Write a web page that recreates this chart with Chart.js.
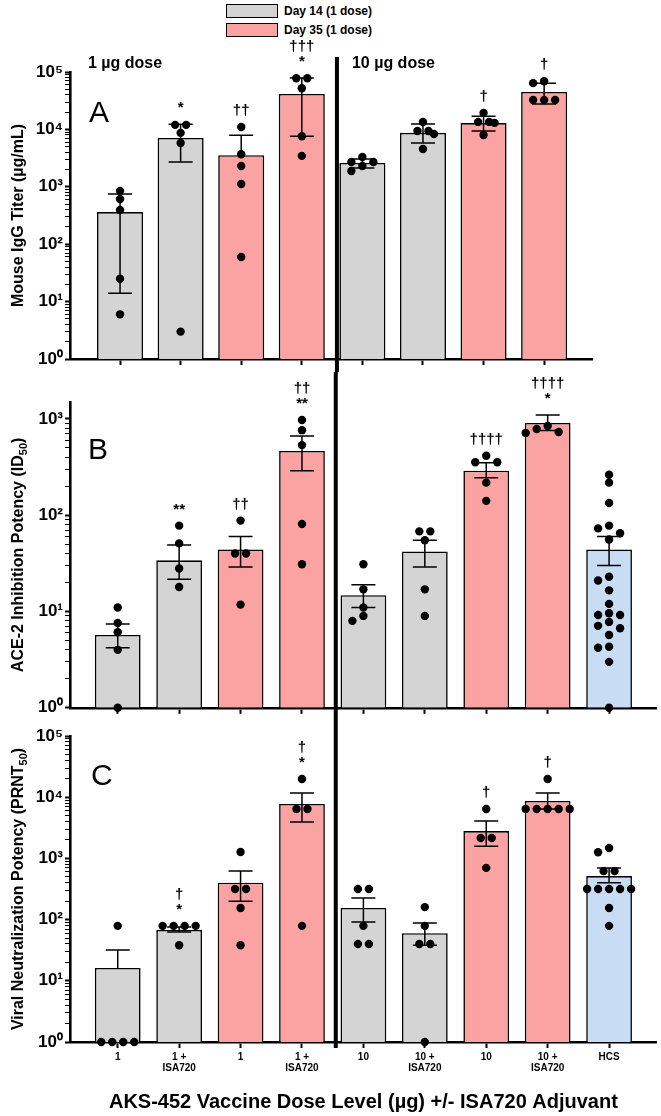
<!DOCTYPE html>
<html>
<head>
<meta charset="utf-8">
<script src="https://cdn.jsdelivr.net/npm/chart.js@4.4.0/dist/chart.umd.min.js"></script>
<style>
  body { margin: 0; background: #fff; width: 661px; height: 1116px; position: relative; overflow: hidden;
         font-family: "Liberation Sans", Arial, sans-serif; }
  canvas { position: absolute; left: 0; }
  #legend { position: absolute; left: 226px; top: 1px; font-weight: bold; font-size: 12px; }
  #legend .item { display: flex; align-items: center; height: 19px; }
  #legend .box { width: 50px; height: 12px; border: 1.5px solid #000; margin-right: 6px; }
</style>
</head>
<body>
<div id="legend">
  <div class="item"><span class="box" style="background:#d4d4d4"></span>Day 14 (1 dose)</div>
  <div class="item"><span class="box" style="background:#fba2a2"></span>Day 35 (1 dose)</div>
</div>
<canvas id="chartA" width="661" height="372" style="top:0"></canvas>
<canvas id="chartB" width="661" height="348" style="top:372px"></canvas>
<canvas id="chartC" width="661" height="396" style="top:720px"></canvas>
<script>
Chart.defaults.font.family = "'Liberation Sans', Arial, sans-serif";
Chart.defaults.color = "#000";

// categories along the x axis (multi-line labels)
const categories = [["1"], ["1 +", "ISA720"], ["1"], ["1 +", "ISA720"], ["10"], ["10 +", "ISA720"], ["10"], ["10 +", "ISA720"], ["HCS"]];
const groupOf = ["d14", "d14", "d35", "d35", "d14", "d14", "d35", "d35", "hcs"];
const groupNames = { d14: "Day 14 (1 dose)", d35: "Day 35 (1 dose)", hcs: "HCS" };
const groupColors = { d14: "#d4d4d4", d35: "#fba2a2", hcs: "#c8dcf4" };

// Panel A - Mouse IgG titer
const meanA = [363, 7100, 3560, 41500, 2600, 8700, 12900, 45000];
const errHiA = [750, 12300, 7900, 79000, 3040, 12400, 17000, 64000];
const errLoA = [14, 2700, null, 7600, 2130, 5800, 9400, 27800];
const dotsA = [
  [850, 615, 395, 25, 6],
  [12000, 12000, 8700, 5800, 3],
  [11000, 3700, 2300, 1120, 60],
  [78000, 78000, 52000, 7600, 3460],
  [3300, 2700, 2700, 2300, 1880],
  [13500, 9400, 9400, 8300, 4560],
  [19400, 13500, 13500, 13000, 8000],
  [69000, 64000, 32500, 32500, 32500]
];
const marksA = [[], ["*"], ["††"], ["*", "†††"], [], [], ["†"], ["†"]];

// Panel B - ACE-2 inhibition
const meanB = [5.7, 34, 44, 466, 14.8, 42, 290, 910, 44];
const errHiB = [7.4, 49, 60, 665, 19, 55, 350, 1100, 60];
const errLoB = [4.2, 21.6, 29, 290, 11, 29, 245, 760, 30];
const dotsB = [
  [11, 7.6, 6.1, 4, 1],
  [78, 51, 28, 18],
  [88, 40, 40, 11.8],
  [975, 765, 535, 81, 31],
  [31, 17, 11, 9, 8],
  [68, 68, 55, 17, 9],
  [415, 355, 355, 218, 141],
  [845, 787, 732, 715],
  [263, 218, 134, 78, 73, 65, 56, 23, 21, 16.6, 12, 9.6, 9.2, 9.2, 7.8, 7.1, 6.7, 5.7, 4.3, 4.2, 3, 1]
];
const marksB = [[], ["**"], ["††"], ["**", "††"], [], [], ["††††"], ["*", "††††"], []];

// Panel C - viral neutralization
const meanC = [16.2, 68, 400, 7760, 155, 60, 2800, 8700, 515];
const errHiC = [32, 76, 620, 11700, 225, 88, 4100, 11700, 700];
const errLoC = [null, 63, 200, 3950, 91, 38, 1580, 6400, 400];
const dotsC = [
  [79, 1, 1, 1, 1],
  [79, 79, 79, 79, 38],
  [1270, 316, 316, 155, 38],
  [19800, 6400, 6400, 79],
  [316, 316, 79, 40, 40],
  [160, 79, 40, 40, 1],
  [6400, 2150, 2150, 700],
  [19800, 6400, 6400, 6400, 6400, 6400],
  [1480, 1260, 620, 620, 316, 316, 316, 316, 316, 155, 79]
];
const marksC = [[], ["*", "†"], [], ["*", "†"], [], [], ["†"], ["†"], []];

const supDigits = ["⁰", "¹", "²", "³", "⁴", "⁵", "⁶"];

function logTicks(max) {
  const ticks = [];
  for (let e = 0; Math.pow(10, e) <= max; e++) {
    for (let d = 1; d <= 9; d++) {
      const v = d * Math.pow(10, e);
      if (v <= max) ticks.push({ value: v, major: d === 1 });
    }
  }
  return ticks;
}

// spread the dots of one bar sideways so they do not overlap
function swarm(items, step, dia) {
  const placed = [];
  items.sort((a, b) => a.y - b.y);
  items.forEach(it => {
    for (let k = 0; k < 30; k++) {
      const off = k === 0 ? 0 : (k % 2 ? -1 : 1) * Math.ceil(k / 2) * step;
      if (placed.every(p => Math.hypot(p.off - off, p.y - it.y) >= dia)) {
        placed.push({ el: it.el, y: it.y, off });
        break;
      }
    }
  });
  const rows = {};
  placed.forEach(p => {
    const key = Math.round(p.y);
    (rows[key] = rows[key] || []).push(p);
  });
  Object.values(rows).forEach(r => {
    if (r.length < 2) return;
    const m = r.reduce((s, p) => s + p.off, 0) / r.length;
    r.forEach(p => { p.off -= m; });
  });
  placed.forEach(p => { p.el.x += p.off; });
}

// rotated axis title, odd parts are drawn as subscripts
function drawYTitle(ctx, parts, cx, cy) {
  const big = "bold 16px 'Liberation Sans', Arial";
  const small = "bold 11px 'Liberation Sans', Arial";
  let w = 0;
  parts.forEach((t, i) => { ctx.font = i % 2 ? small : big; w += ctx.measureText(t).width; });
  ctx.save();
  ctx.translate(cx, cy);
  ctx.rotate(-Math.PI / 2);
  ctx.textAlign = "left";
  ctx.textBaseline = "middle";
  let pos = -w / 2;
  parts.forEach((t, i) => {
    ctx.font = i % 2 ? small : big;
    ctx.fillText(t, pos, i % 2 ? 5 : 0);
    pos += ctx.measureText(t).width;
  });
  ctx.restore();
}

function makeDecor(p) {
  return {
    id: "decor" + p.letter,
    afterDatasetsUpdate(chart) {
      const meta = chart.getDatasetMeta(0);
      const pts = chart.data.datasets[0].data;
      const byCat = {};
      meta.data.forEach((el, i) => {
        (byCat[pts[i].x] = byCat[pts[i].x] || []).push({ el, y: el.y });
      });
      Object.values(byCat).forEach(list => swarm(list, 11, 7.8));
    },
    beforeDatasetDraw(chart, args) {
      if (args.index !== 0) return;
      const { ctx, scales: { x, y } } = chart;
      ctx.save();
      ctx.strokeStyle = "#000";
      ctx.lineWidth = 1.5;
      p.mean.forEach((m, i) => {
        const cx = x.getPixelForValue(i);
        const yHi = y.getPixelForValue(p.errHi[i]);
        const yLo = p.errLo[i] != null ? y.getPixelForValue(p.errLo[i]) : y.getPixelForValue(m);
        ctx.beginPath();
        ctx.moveTo(cx, yHi); ctx.lineTo(cx, yLo);
        ctx.moveTo(cx - 12, yHi); ctx.lineTo(cx + 12, yHi);
        if (p.errLo[i] != null) { ctx.moveTo(cx - 12, yLo); ctx.lineTo(cx + 12, yLo); }
        ctx.stroke();
      });
      ctx.restore();
    },
    afterDraw(chart) {
      const { ctx, chartArea, scales: { x, y } } = chart;
      ctx.save();
      ctx.fillStyle = "#000";
      drawYTitle(ctx, p.yTitle, 19, (chartArea.top + chartArea.bottom) / 2);
      // significance marks
      ctx.font = "bold 15px 'Liberation Sans', Arial";
      ctx.textAlign = "center";
      ctx.textBaseline = "middle";
      p.marks.forEach((lines, i) => {
        if (!lines.length) return;
        const top = Math.min(y.getPixelForValue(p.errHi[i]), y.getPixelForValue(Math.max(...p.dots[i])));
        lines.forEach((t, j) => ctx.fillText(t, x.getPixelForValue(i), top - 16 - j * 15));
      });
      // panel letter
      ctx.font = "30px 'Liberation Sans', Arial";
      ctx.textAlign = "left";
      ctx.textBaseline = "top";
      ctx.fillText(p.letter, chartArea.left + p.letterDx, chartArea.top + p.letterDy);
      const sepX = x.getPixelForValue(p.sepAt);
      if (p.doseLabels) {
        ctx.font = "bold 16px 'Liberation Sans', Arial";
        ctx.fillText("1 µg dose", chartArea.left + 18, 56);
        ctx.fillText("10 µg dose", sepX + 15, 56);
      }
      // thick divider between the dose groups
      const top = p.sepTop;
      const bottom = p.sepBottom != null ? chartArea.bottom + p.sepBottom : chart.height;
      ctx.fillRect(sepX - 2, top, 4, bottom - top);
      ctx.restore();
    }
  };
}

function makePanel(id, p) {
  const n = p.mean.length;
  const groups = ["d14", "d35", "hcs"].filter(g => groupOf.slice(0, n).includes(g));
  const dotData = [];
  p.dots.forEach((list, i) => list.forEach(v => dotData.push({ x: i, y: v })));
  const datasets = [{
    type: "scatter",
    label: "animals",
    data: dotData,
    pointRadius: 4.2,
    pointBackgroundColor: "#000",
    pointBorderWidth: 0,
    clip: false,
    order: 0
  }];
  groups.forEach(g => {
    datasets.push({
      type: "bar",
      label: groupNames[g],
      data: p.mean.map((v, i) => ({ x: i, y: v })).filter((pt, i) => groupOf[i] === g),
      backgroundColor: groupColors[g],
      borderColor: "#000",
      borderWidth: 1.6,
      grouped: false,
      categoryPercentage: 1,
      barPercentage: p.barPct,
      order: 1
    });
  });

  return new Chart(document.getElementById(id), {
    type: "bar",
    data: { datasets },
    options: {
      responsive: false,
      animation: false,
      layout: { padding: p.padding },
      plugins: { legend: { display: false }, tooltip: { enabled: false } },
      scales: {
        x: {
          type: "linear",
          min: p.xMin,
          max: p.xMax,
          offset: false,
          afterBuildTicks: s => { s.ticks = categories.slice(0, n).map((c, i) => ({ value: i })); },
          afterFit: s => { s.height = p.xHeight; },
          ticks: {
            display: p.showLabels,
            autoSkip: false,
            maxRotation: 0,
            padding: 3,
            font: { size: 10, weight: "bold", lineHeight: 1.15 },
            callback: v => categories[v]
          },
          grid: { display: true, drawOnChartArea: false, offset: false, tickLength: 6, tickWidth: 2, tickColor: "#000" },
          border: { display: true, color: "#000", width: 2.6 },
          title: {
            display: !!p.xTitle,
            text: p.xTitle || "",
            font: { size: 20, weight: "bold" },
            padding: { top: 4, bottom: 2 }
          }
        },
        y: {
          type: "logarithmic",
          min: 1,
          max: p.yMax,
          afterBuildTicks: s => { s.ticks = logTicks(p.yMax); },
          afterFit: s => { s.width = 70; },
          ticks: {
            autoSkip: false,
            padding: 2,
            font: { size: 17, weight: "bold" },
            callback: (v, i, ticks) => ticks[i].major ? "10" + supDigits[Math.round(Math.log10(v))] : ""
          },
          grid: {
            display: true,
            drawOnChartArea: false,
            tickLength: 5,
            tickColor: "#000",
            tickWidth: c => (c.tick && c.tick.major ? 2 : 1)
          },
          border: { display: true, color: "#000", width: 2.6 },
          title: { display: false }
        }
      }
    },
    plugins: [makeDecor(p)]
  });
}

makePanel("chartA", {
  letter: "A", mean: meanA, errHi: errHiA, errLo: errLoA, dots: dotsA, marks: marksA,
  yMax: 1e5, yTitle: ["Mouse IgG Titer (µg/mL)"],
  xMin: -0.826, xMax: 7.79, barPct: 0.76, showLabels: false, xHeight: 13,
  padding: { top: 72, right: 69, bottom: 0, left: 0 },
  letterDx: 19, letterDy: 27, doseLabels: true, sepAt: 3.58, sepTop: 57
});

makePanel("chartB", {
  letter: "B", mean: meanB, errHi: errHiB, errLo: errLoB, dots: dotsB, marks: marksB,
  yMax: 1500, yTitle: ["ACE-2 Inhibition Potency (ID", "50", ")"],
  xMin: -0.777, xMax: 8.777, barPct: 0.745, showLabels: false, xHeight: 11,
  padding: { top: 30, right: 1, bottom: 0, left: 0 },
  letterDx: 18, letterDy: 34, doseLabels: false, sepAt: 3.55, sepTop: 0
});

makePanel("chartC", {
  letter: "C", mean: meanC, errHi: errHiC, errLo: errLoC, dots: dotsC, marks: marksC,
  yMax: 1e5, yTitle: ["Viral Neutralization Potency (PRNT", "50", ")"],
  xTitle: "AKS-452 Vaccine Dose Level (µg) +/- ISA720 Adjuvant",
  xMin: -0.777, xMax: 8.777, barPct: 0.745, showLabels: true, xHeight: 74,
  padding: { top: 16, right: 1, bottom: 0, left: 0 },
  letterDx: 21, letterDy: 26, doseLabels: false, sepAt: 3.55, sepTop: 0, sepBottom: 6
});
</script>
</body>
</html>
